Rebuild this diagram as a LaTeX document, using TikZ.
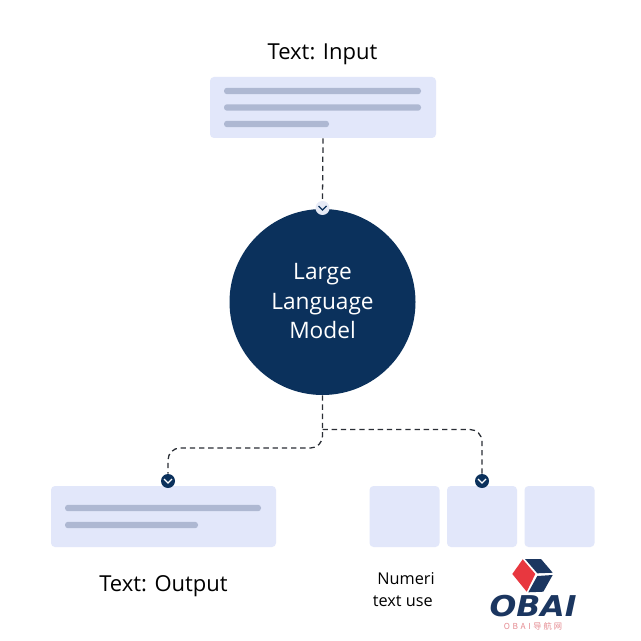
\documentclass[tikz,border=0pt]{standalone}
\usepackage{fontspec}
\setmainfont{Open Sans}
\newfontfamily\logofont{DejaVu Sans}
\newfontfamily\cjkfont{Noto Sans CJK SC}
\definecolor{navy}{HTML}{0B315C}
\definecolor{panel}{HTML}{E2E7FA}
\definecolor{bar}{HTML}{AEB8D2}
\definecolor{dash}{HTML}{2A2E35}
\definecolor{chevlight}{HTML}{E6EAF6}
\definecolor{logored}{HTML}{E8373F}
\definecolor{logonavy}{HTML}{1B3660}
\definecolor{logopink}{HTML}{E58A90}
\tikzset{
  x=0.75pt,y=-0.75pt,
  panelbox/.style={fill=panel,rounded corners=3pt,inner sep=0pt,text width=0pt},
  barline/.style={fill=bar,rounded corners=2.2pt,inner sep=0pt,minimum height=4.8pt,text width=0pt},
  chev/.style={circle,inner sep=0pt,minimum size=10.5pt},
  conn/.style={draw=dash,line width=0.95pt,dash pattern=on 4pt off 2.9pt,rounded corners=9pt},
  chevmark/.style={line width=0.9pt},
  label/.style={inner sep=0pt,font=\fontsize{16.5}{20}\selectfont,text=black},
  sublabel/.style={inner sep=0pt,font=\fontsize{12.2}{16.5}\selectfont,text=black}
}
\begin{document}
\begin{tikzpicture}
\useasboundingbox[fill=white] (0,0) rectangle (640,641);
% panels
\node[panelbox,minimum width=169.5pt,minimum height=45.75pt] (input) at (323,107.5) {};
\node[panelbox,minimum width=168.75pt,minimum height=45.75pt] (output) at (163.5,516.5) {};
\node[panelbox,minimum width=52.5pt,minimum height=45.75pt] (numA) at (404.5,516.5) {};
\node[panelbox,minimum width=52.5pt,minimum height=45.75pt] (numB) at (482,516.5) {};
\node[panelbox,minimum width=52.5pt,minimum height=45.75pt] (numC) at (559.5,516.5) {};
% text bars
\node[barline,minimum width=147.75pt] (inA) at (322.5,91) {};
\node[barline,minimum width=147.75pt] (inB) at (322.5,107.5) {};
\node[barline,minimum width=78.75pt] (inC) at (276.5,124) {};
\node[barline,minimum width=147pt] (outA) at (163,508) {};
\node[barline,minimum width=99.75pt] (outB) at (131.5,525) {};
% model
\node[circle,fill=navy,inner sep=0pt,minimum size=139.5pt,align=center,text=white,
  font=\fontsize{17}{22.3}\selectfont] (llm) at (322.5,302) {Large\\Language\\Model\rule[-1.5pt]{0pt}{0pt}};
% chevron markers
\node[chev,fill=chevlight] (chevTop) at (322.5,208) {};
\node[chev,fill=navy] (chevL) at (168,481) {};
\node[chev,fill=navy] (chevR) at (482,481) {};
% connectors
\coordinate (branch) at (322.5,429.5);
\draw[conn] (input.south) -- (chevTop.north);
\draw[conn] (llm.south) -- (322.5,448) -- (168,448) -- (chevL.north);
\draw[conn] (branch) -- (482,429.5) -- (chevR.north);
% chevrons
\draw[chevmark,draw=navy] ([shift={(-4,-2)}]chevTop.center) -- ([shift={(0,2)}]chevTop.center) -- ([shift={(4,-2)}]chevTop.center);
\draw[chevmark,draw=white] ([shift={(-4,-2)}]chevL.center) -- ([shift={(0,2)}]chevL.center) -- ([shift={(4,-2)}]chevL.center);
\draw[chevmark,draw=white] ([shift={(-4,-2)}]chevR.center) -- ([shift={(0,2)}]chevR.center) -- ([shift={(4,-2)}]chevR.center);
% labels
\node[label] (inLabel) at (322.5,54) {Text: Input};
\node[label] (outLabel) at (163.5,586) {Text: Output};
\node[sublabel,anchor=east] (numLine) at (435,578.5) {Numeri};
\node[sublabel,anchor=east] (useLine) at (433,601.5) {text use};
% logo
\fill[logored] (512.3,574) -- (522.7,559.3) -- (535.3,574) -- (526.7,591.7) -- cycle;
\fill[logonavy] (525,559) -- (541,559) -- (552.7,572.7) -- (537.3,573.3) -- cycle;
\fill[logonavy] (537.3,576) -- (552.7,575) -- (543.3,591.7) -- (528.3,592.3) -- cycle;
\node[inner sep=0pt,text=logonavy] (logoName) at (533,606.5) {\scalebox{1.1}[1]{\logofont\bfseries\itshape\fontsize{21.5}{21.5}\selectfont OBAI}};
\node[inner sep=0pt,text=logopink] (logoSub) at (533,626.5) {\cjkfont\fontsize{6.2}{7}\selectfont O\kern2pt B\kern2pt A\kern2pt I\kern2pt 导\kern1.5pt 航\kern1.5pt 网};
\end{tikzpicture}
\end{document}
